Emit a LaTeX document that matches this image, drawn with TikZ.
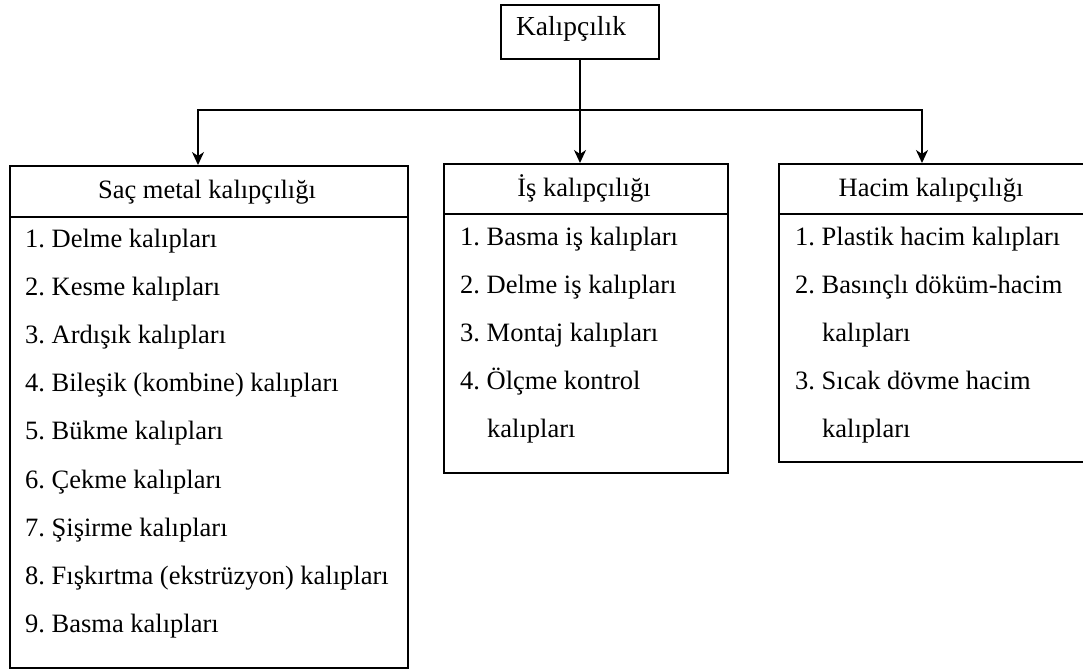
\documentclass[tikz,border=0pt]{standalone}
\usepackage{fontspec}
\setmainfont{Liberation Serif}
\usetikzlibrary{arrows.meta}
\frenchspacing
\tikzset{
  box/.style={draw, line width=2pt, inner sep=0pt, anchor=north west},
  item/.style={anchor=base west, inner sep=0pt},
  head/.style={anchor=base, inner sep=0pt},
  conn/.style={line width=1.8pt},
  arr/.style={conn, -{Stealth[length=13pt,width=12pt,inset=4pt]}}
}
\begin{document}
\begin{tikzpicture}[x=1pt,y=-1pt,font=\fontsize{26.5}{32}\selectfont]
\clip (0,0) rectangle (1083,669);
% top box
\node[box, minimum width=158pt, minimum height=54pt] (top) at (500,4) {};
\node[head, font=\fontsize{27.5}{32}\selectfont] (toptxt) at (571,36) {Kalıpçılık};
% left box
\node[box, minimum width=398pt, minimum height=51pt] (sac) at (9,165) {};
\node[box, minimum width=398pt, minimum height=451pt] (sacb) at (9,216) {};
\node[head] (sach) at (207,198) {Saç metal kalıpçılığı};
\node[item] (s1) at (25,247) {1. Delme kalıpları};
\node[item] (s2) at (25,295) {2. Kesme kalıpları};
\node[item] (s3) at (25,343) {3. Ardışık kalıpları};
\node[item] (s4) at (25,391) {4. Bileşik (kombine) kalıpları};
\node[item] (s5) at (25,439) {5. Bükme kalıpları};
\node[item] (s6) at (25,488) {6. Çekme kalıpları};
\node[item] (s7) at (25,536) {7. Şişirme kalıpları};
\node[item] (s8) at (25,584) {8. Fışkırtma (ekstrüzyon) kalıpları};
\node[item] (s9) at (25,632) {9. Basma kalıpları};
% middle box
\node[box, minimum width=284pt, minimum height=50pt] (is) at (443,163) {};
\node[box, minimum width=284pt, minimum height=259pt] (isb) at (443,213) {};
\node[head] (ish) at (584,196) {İş kalıpçılığı};
\node[item] (i1) at (460,245) {1. Basma iş kalıpları};
\node[item] (i2) at (460,293) {2. Delme iş kalıpları};
\node[item] (i3) at (460,341) {3. Montaj kalıpları};
\node[item] (i4) at (460,389) {4. Ölçme kontrol};
\node[item] (i5) at (487,437) {kalıpları};
% right box
\node[box, minimum width=320pt, minimum height=50pt] (hac) at (778,163) {};
\node[box, minimum width=320pt, minimum height=248pt] (hacb) at (778,213) {};
\node[head] (hach) at (931,196) {Hacim kalıpçılığı};
\node[item] (h1) at (795,245) {1. Plastik hacim kalıpları};
\node[item] (h2) at (795,293) {2. Basınçlı döküm-hacim};
\node[item] (h3) at (822,341) {kalıpları};
\node[item] (h4) at (795,389) {3. Sıcak dövme hacim};
\node[item] (h5) at (822,437) {kalıpları};
% connectors
\coordinate (j) at (579,110);
\draw[arr] (top.south) -- (top.south |- is.north);
\draw[arr] (j) -| (198,165);
\draw[arr] (j) -| (922,163);
\end{tikzpicture}
\end{document}
